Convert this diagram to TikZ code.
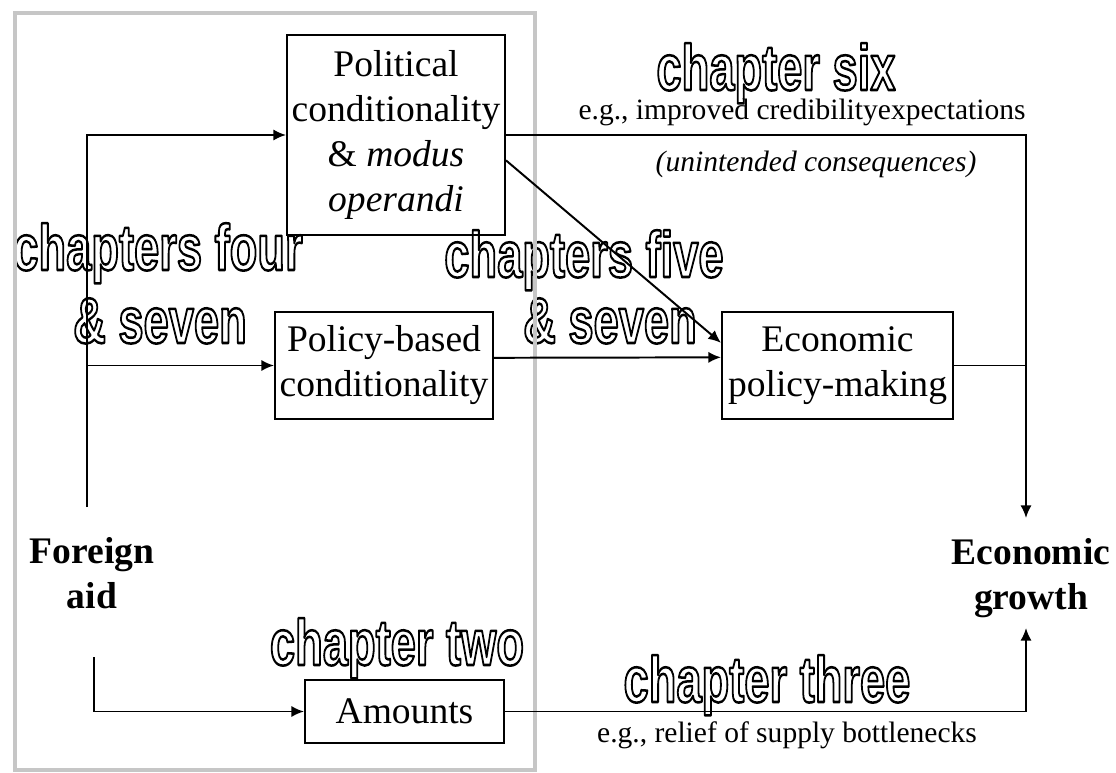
\documentclass[tikz,border=0pt]{standalone}
\usepackage{fontspec}
\setmainfont{Liberation Serif}
\newfontfamily\chapfont{Liberation Sans}
\usepackage{graphicx}
\usetikzlibrary{positioning,arrows.meta}

% outlined lettering: stroke the glyphs instead of filling them
\newcommand{\hollow}[1]{\scalebox{0.7}[1]{\special{pdf:literal direct 1 Tr 1.8 w 1 j}#1\special{pdf:literal direct 0 Tr}}}

\begin{document}
\begin{tikzpicture}[x=0.025cm, y=-0.025cm,
    boxnode/.style={draw=black, line width=1.4pt, align=center, inner sep=0pt, font=\fontsize{26.7}{32}\selectfont},
    keynode/.style={align=center, inner sep=0pt, font=\fontsize{26.7}{32}\selectfont\bfseries},
    chapnode/.style={anchor=base, inner sep=0pt, font=\chapfont\bfseries\fontsize{46}{50}\selectfont},
    notenode/.style={anchor=base, inner sep=0pt, font=\fontsize{21}{25}\selectfont},
    link/.style={->, >={Latex[length=9pt, width=8pt]}, line width=1.4pt}
    ]
        \useasboundingbox (0,0) rectangle (1116,773);

        %Chapter labels
        \node[chapnode] (ch6)   at (776,90)  {\hollow{chapter six}};
        \node[chapnode] (ch4)   at (158,270) {\hollow{chapters four}};
        \node[chapnode] (ch4b)  at (160,343) {\hollow{\& seven}};
        \node[chapnode] (ch5)   at (584,277) {\hollow{chapters five}};
        \node[chapnode] (ch5b)  at (610,343) {\hollow{\& seven}};
        \node[chapnode] (ch2)   at (397,665) {\hollow{chapter two}};
        \node[chapnode] (ch3)   at (767,702) {\hollow{chapter three}};

        %Notes
        \node[notenode] (eg6) at (802,120) {e.g., improved credibilityexpectations};
        \node[notenode] (unint) at (816,172) {\itshape(unintended consequences)};
        \node[notenode] (eg3) at (787,742) {e.g., relief of supply bottlenecks};

        %Frame
        \draw[gray!45, line width=3.5pt] (15,13) rectangle (535,770);

        %Nodes
        \node[boxnode, minimum width=5.45cm, minimum height=5cm]
            (pol) at (396,135) {Political\\conditionality\\\& \textit{modus}\\\textit{operandi}};
        \node[boxnode, minimum width=5.45cm, minimum height=2.675cm]
            (pbc) at (384,365.5) {Policy-based\\conditionality};
        \node[boxnode, minimum width=4.975cm, minimum height=1.575cm]
            (amt) at (404.5,711.5) {Amounts};
        \node[boxnode, minimum width=5.775cm, minimum height=2.675cm]
            (eco) at (837.5,365.5) {Economic\\policy-making};
        \node[keynode] (aid)    at (92,573)   {Foreign\\aid};
        \node[keynode] (growth) at (1031,578) {Economic\\growth};
        \coordinate (aidup)   at (87,507);
        \coordinate (aiddown) at (94,657);
        \coordinate (gtop)    at (1026,518);
        \coordinate (gbot)    at (1026,628);

        %Lines
        \draw[link] (aidup) |- (pol.west);
        \draw[link] (aidup |- pbc.west) -- (pbc.west);
        \draw[link] (aiddown) |- (amt.west);
        \draw[link] (pol.east) -| (gtop);
        \draw[link] (pol.-13) -- (eco.169);
        \draw[link] (pbc.4) -- (eco.176);
        \draw[line width=1.4pt] (eco.east) -- (eco.east -| gtop);
        \draw[link] (amt.east) -| (gbot);
    \end{tikzpicture}
\end{document}
